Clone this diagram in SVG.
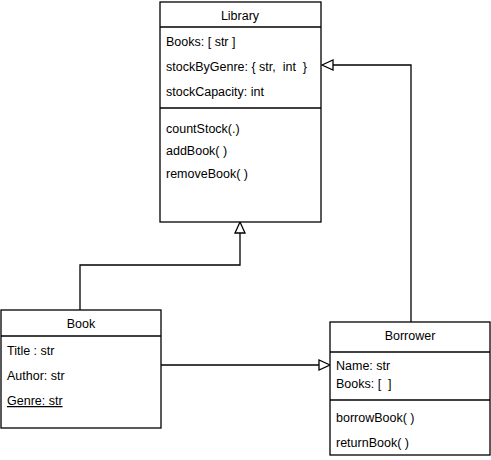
<svg xmlns="http://www.w3.org/2000/svg" width="491" height="460" viewBox="0 0 491 460">
<defs>
<style>
.box{fill:#fff;stroke:#000;stroke-width:1.3}
.sep{stroke:#000;stroke-width:1.3;fill:none}
.t{font-family:"Liberation Sans",Arial,sans-serif;font-size:12.5px;fill:#000;white-space:pre}
.c{text-anchor:middle}
.edge{stroke:#000;stroke-width:1.3;fill:none}
.head{fill:#fff;stroke:#000;stroke-width:1.3}
</style>
</defs>
<rect width="491" height="460" fill="#fff"/>
<g id="connectors">
<polyline class="edge" points="80,310 80,265 240,265 240,233"/>
<polygon class="head" points="240,222 235,233 245,233"/>
<polyline class="edge" points="411,322 411,65 333,65"/>
<polygon class="head" points="322,65 333,60 333,70"/>
<line class="edge" x1="161" y1="365" x2="319" y2="365"/>
<polygon class="head" points="330,365 319,360 319,370"/>
</g>
<g id="library">
<rect class="box" x="160" y="2" width="161" height="220"/>
<line class="sep" x1="160" y1="27" x2="321" y2="27"/>
<line class="sep" x1="160" y1="108" x2="321" y2="108"/>
<text class="t c" x="240" y="20">Library</text>
<text class="t" x="166" y="46" xml:space="preserve">Books: [ str ]</text>
<text class="t" x="166" y="71" xml:space="preserve">stockByGenre: { str,  int  }</text>
<text class="t" x="166" y="96">stockCapacity: int</text>
<text class="t" x="166" y="133">countStock(.)</text>
<text class="t" x="166" y="155">addBook( )</text>
<text class="t" x="166" y="178">removeBook( )</text>
</g>
<g id="book">
<rect class="box" x="1" y="310" width="160" height="118"/>
<line class="sep" x1="1" y1="336" x2="161" y2="336"/>
<text class="t c" x="81" y="328">Book</text>
<text class="t" x="7" y="355">Title : str</text>
<text class="t" x="7" y="380">Author: str</text>
<text class="t" x="7" y="405" text-decoration="underline">Genre: str</text>
</g>
<g id="borrower">
<rect class="box" x="330" y="322" width="160" height="133"/>
<line class="sep" x1="330" y1="352" x2="490" y2="352"/>
<line class="sep" x1="330" y1="400" x2="490" y2="400"/>
<text class="t c" x="410" y="340">Borrower</text>
<text class="t" x="336" y="370">Name: str</text>
<text class="t" x="336" y="388" xml:space="preserve">Books: [  ]</text>
<text class="t" x="336" y="422">borrowBook( )</text>
<text class="t" x="336" y="447">returnBook( )</text>
</g>
</svg>
